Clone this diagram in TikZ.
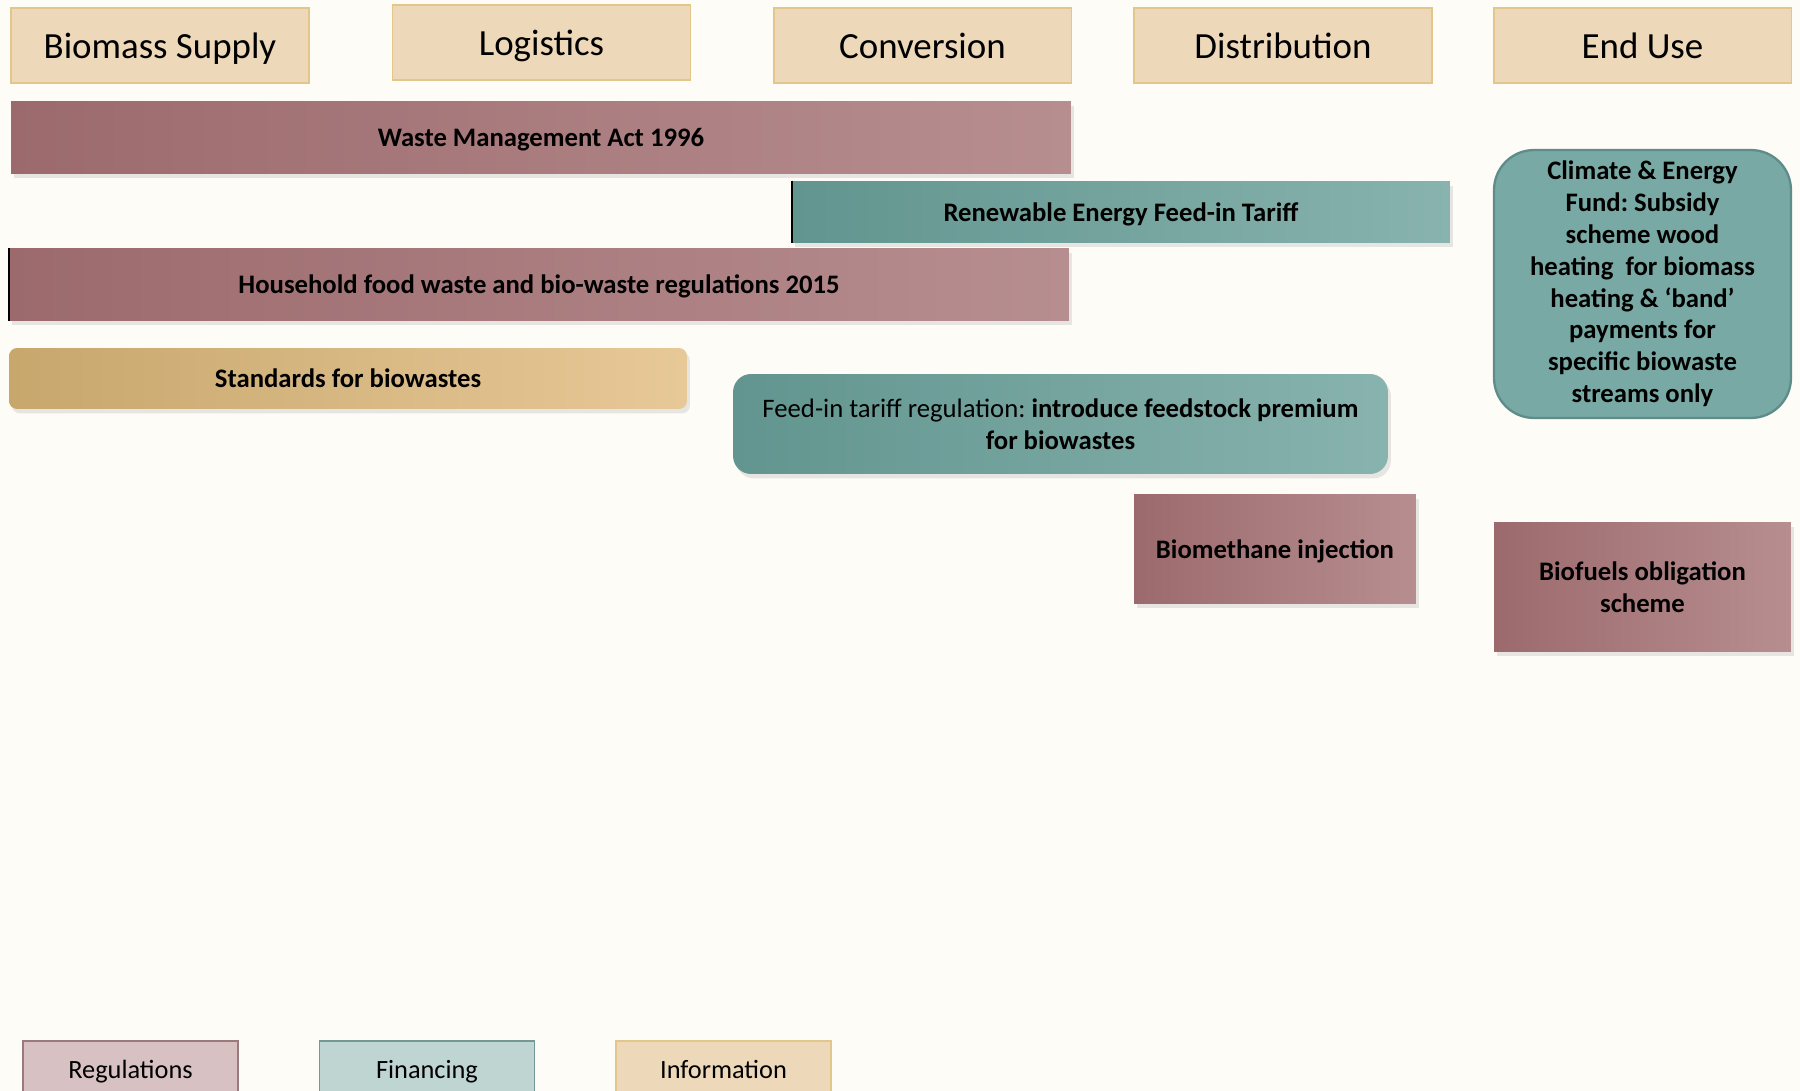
\documentclass[tikz,border=0pt]{standalone}
\usepackage{fontspec}
\setmainfont{Carlito}
\usepackage{tikz}
\usetikzlibrary{shadows, positioning}
\frenchspacing
\definecolor{pagecolor}{HTML}{FDFCF7}
\definecolor{stagefill}{HTML}{EDD9B9}
\definecolor{stageline}{HTML}{E2C68A}
\definecolor{regleft}{HTML}{9C6A6D}
\definecolor{regright}{HTML}{B78E90}
\definecolor{finleft}{HTML}{62958F}
\definecolor{finright}{HTML}{88B3AE}
\definecolor{infleft}{HTML}{C8A76D}
\definecolor{infright}{HTML}{E7C897}
\definecolor{fundfill}{HTML}{78A9A4}
\definecolor{fundline}{HTML}{5E8C88}

\begin{document}
\begin{tikzpicture}[
    x=0.02cm, y=-0.02cm,
    stage/.style={draw=stageline, line width=1.1pt, fill=stagefill, minimum width=5.96cm, minimum height=1.5cm, inner sep=2pt, text depth=0pt, font=\fontsize{21}{25}\selectfont},
    bar/.style={inner sep=2pt, align=center, font=\fontsize{15.2}{18.1}\selectfont\bfseries, drop shadow={opacity=0.18, shadow xshift=0.6mm, shadow yshift=-0.9mm}},
    oneline/.style={text depth=0pt},
    regbar/.style={bar, left color=regleft, right color=regright},
    finbar/.style={bar, left color=finleft, right color=finright},
    infbar/.style={bar, left color=infleft, right color=infright},
    legendbox/.style={line width=1.1pt, minimum width=4.3cm, minimum height=1.12cm, text depth=0pt, font=\fontsize{15}{18}\selectfont}
]
    % page
    \fill[pagecolor] (0,0) rectangle (1800,1091);
    \useasboundingbox (0,0) rectangle (1800,1091);

    % value chain stages
    \node[stage] (supply) at (160,45.5) {Biomass Supply};
    \node[stage] (logistics) at (541.5,42.5) {Logistics};
    \node[stage] (conversion) at (922.5,45.5) {Conversion};
    \node[stage] (distribution) at (1283,45.5) {Distribution};
    \node[stage] (enduse) at (1642.5,45.5) {End Use};

    % policies
    \node[regbar, oneline, minimum width=21.2cm, minimum height=1.46cm] (wma) at (541,137.5) {Waste Management Act 1996};
    \node[finbar, oneline, minimum width=13.16cm, minimum height=1.24cm] (refit) at (1121,212) {Renewable Energy Feed-in Tariff};
    \node[regbar, oneline, minimum width=21.2cm, minimum height=1.46cm] (household) at (539,284.5) {Household food waste and bio-waste regulations 2015};
    \node[infbar, oneline, rounded corners=0.16cm, minimum width=13.56cm, minimum height=1.22cm] (standards) at (348,378.5) {Standards for biowastes};
    \node[finbar, rounded corners=0.36cm, minimum width=13.1cm, minimum height=2cm] (premium) at (1060.5,424)
        {\mdseries Feed-in tariff regulation: \bfseries introduce feedstock premium\\for biowastes};
    \node[draw=fundline, line width=1.3pt, fill=fundfill, rounded corners=0.8cm, minimum width=5.94cm, minimum height=5.36cm,
        align=center, font=\fontsize{15.2}{18.1}\selectfont\bfseries] (fund) at (1642.5,284)
        {Climate \& Energy\\Fund: Subsidy\\scheme wood\\heating\ \ for biomass\\heating \& ‘band’\\payments for\\specific biowaste\\streams only};
    \node[regbar, oneline, minimum width=5.64cm, minimum height=2.2cm] (biomethane) at (1275,549) {Biomethane injection};
    \node[regbar, minimum width=5.94cm, minimum height=2.6cm] (biofuels) at (1642.5,587) {Biofuels obligation\\scheme};

    % dark left edges
    \draw[line width=1.2pt] (refit.north west) -- (refit.south west);
    \draw[line width=1.2pt] (household.north west) -- (household.south west);

    % legend
    \node[legendbox, draw=regright!85!black, fill=regright!55!white] (reglegend) at (130.5,1069) {Regulations};
    \node[legendbox, draw=finright!85!black, fill=finright!55!white] (finlegend) at (427,1069) {Financing};
    \node[legendbox, draw=stageline, fill=stagefill] (inflegend) at (723.5,1069) {Information};
\end{tikzpicture}
\end{document}
